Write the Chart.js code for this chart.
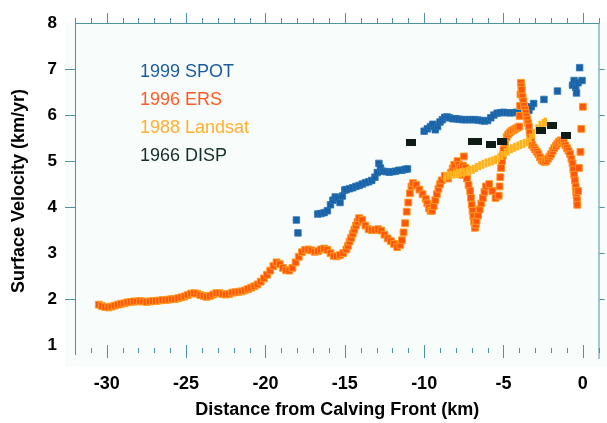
<!DOCTYPE html>
<html>
<head>
<meta charset="utf-8">
<script src="https://cdn.jsdelivr.net/npm/chart.js@4"></script>
<style>
html,body{margin:0;padding:0;background:#ffffff;}
#wrap{width:607px;height:423px;}
</style>
</head>
<body>
<div id="wrap"><canvas id="c" width="607" height="423"></canvas></div>
<script>
// ---------------- DATA ----------------
const xTickValues = [-30, -25, -20, -15, -10, -5, 0];
const yTickValues = [1, 2, 3, 4, 5, 6, 7, 8];
const xAxisTitle = 'Distance from Calving Front (km)';
const yAxisTitle = 'Surface Velocity (km/yr)';

const seriesLabels = ['1999 SPOT', '1996 ERS', '1988 Landsat', '1966 DISP'];

// 1996 ERS
const ersX = [-30.5,-30.3,-30.1,-29.9,-29.7,-29.5,-29.3,-29.1,-28.9,-28.7,-28.5,-28.3,-28.1,-27.9,-27.7,-27.5,-27.3,-27.1,-26.9,-26.7,-26.5,-26.3,-26.1,-25.9,-25.7,-25.5,-25.3,-25.1,-24.9,-24.7,-24.5,-24.3,-24.1,-23.9,-23.7,-23.5,-23.3,-23.1,-22.9,-22.7,-22.5,-22.3,-22.1,-21.9,-21.7,-21.5,-21.3,-21.1,-20.9,-20.7,-20.5,-20.3,-20.1,-19.9,-19.7,-19.5,-19.3,-19.1,-18.9,-18.7,-18.5,-18.3,-18.1,-17.9,-17.7,-17.5,-17.3,-17.1,-16.9,-16.7,-16.5,-16.3,-16.1,-15.9,-15.7,-15.5,-15.3,-15.1,-14.9,-14.8,-14.7,-14.6,-14.5,-14.4,-14.3,-14.2,-14.1,-13.9,-13.7,-13.5,-13.3,-13.1,-12.9,-12.7,-12.5,-12.3,-12.1,-11.9,-11.7,-11.5,-11.4,-11.3,-11.2,-11.1,-11.0,-10.9,-10.8,-10.7,-10.5,-10.3,-10.1,-9.9,-9.8,-9.7,-9.6,-9.5,-9.4,-9.3,-9.2,-9.1,-9.0,-8.9,-8.7,-8.5,-8.3,-8.2,-8.1,-7.9,-7.8,-7.7,-7.6,-7.55,-7.5,-7.4,-7.3,-7.2,-7.1,-7.05,-7.0,-6.95,-6.9,-6.85,-6.8,-6.75,-6.7,-6.6,-6.5,-6.4,-6.3,-6.2,-6.1,-5.9,-5.7,-5.5,-5.3,-5.25,-5.2,-5.15,-5.1,-5.05,-5.0,-4.9,-4.8,-4.7,-4.6,-4.5,-4.4,-4.3,-4.2,-4.1,-4.0,-3.98,-3.95,-3.93,-3.9,-3.87,-3.85,-3.8,-3.75,-3.7,-3.65,-3.6,-3.55,-3.5,-3.45,-3.4,-3.35,-3.3,-3.25,-3.2,-3.1,-3.0,-2.9,-2.8,-2.7,-2.6,-2.5,-2.4,-2.3,-2.2,-2.1,-2.0,-1.9,-1.8,-1.7,-1.6,-1.5,-1.4,-1.3,-1.2,-1.1,-1.0,-0.9,-0.8,-0.72,-0.65,-0.6,-0.55,-0.5,-0.45,-0.42,-0.4,-0.37,-0.35,-0.3,-0.25,-0.15,-0.1,0.0];
const ersY = [1.88,1.85,1.83,1.82,1.84,1.86,1.88,1.90,1.91,1.93,1.94,1.95,1.95,1.96,1.95,1.94,1.95,1.96,1.96,1.97,1.98,1.98,1.99,2.00,2.00,2.02,2.04,2.06,2.09,2.12,2.13,2.12,2.09,2.07,2.05,2.07,2.10,2.13,2.13,2.11,2.10,2.11,2.14,2.15,2.16,2.17,2.19,2.22,2.25,2.28,2.32,2.38,2.45,2.53,2.62,2.72,2.80,2.76,2.68,2.63,2.62,2.68,2.80,2.92,3.02,3.07,3.08,3.06,3.03,3.04,3.08,3.10,3.07,3.00,2.94,2.93,2.96,3.00,3.08,3.16,3.25,3.33,3.42,3.51,3.60,3.68,3.76,3.72,3.60,3.52,3.50,3.50,3.52,3.49,3.40,3.32,3.26,3.20,3.13,3.18,3.28,3.45,3.65,3.90,4.10,4.30,4.45,4.52,4.48,4.38,4.28,4.18,4.08,3.98,3.92,3.92,4.02,4.15,4.28,4.40,4.50,4.58,4.68,4.62,4.75,4.84,4.92,5.00,4.92,4.85,4.70,4.90,5.10,4.85,4.62,4.48,4.35,4.20,4.05,3.92,3.80,3.68,3.55,3.62,3.70,3.82,3.95,4.08,4.20,4.33,4.45,4.50,4.35,4.20,4.25,4.45,4.65,4.85,5.00,5.12,5.25,5.40,5.52,5.58,5.62,5.65,5.67,5.69,5.71,5.73,5.75,5.98,6.20,6.45,6.70,6.62,6.55,6.40,6.30,6.20,6.12,6.05,5.97,5.90,5.82,5.75,5.62,5.50,5.42,5.35,5.30,5.25,5.20,5.15,5.08,5.02,5.00,4.98,5.00,5.05,5.10,5.15,5.22,5.28,5.33,5.38,5.42,5.45,5.43,5.40,5.34,5.28,5.22,5.15,5.05,4.95,4.82,4.70,4.58,4.45,4.35,4.25,4.15,4.05,4.35,4.85,5.20,5.70,6.18];

// 1999 SPOT
const spotX = [-18.05,-17.95,-16.7,-16.5,-16.3,-16.1,-15.9,-15.75,-15.6,-15.45,-15.3,-15.15,-15.0,-14.9,-14.7,-14.5,-14.3,-14.1,-13.9,-13.7,-13.5,-13.3,-13.1,-12.95,-12.85,-12.75,-12.6,-12.4,-12.2,-12.0,-11.8,-11.6,-11.4,-11.2,-11.05,-10.0,-9.8,-9.6,-9.45,-9.3,-9.15,-9.0,-8.85,-8.7,-8.55,-8.4,-8.2,-8.0,-7.8,-7.6,-7.4,-7.2,-7.0,-6.8,-6.6,-6.4,-6.2,-6.0,-5.8,-5.6,-5.4,-5.2,-5.0,-4.8,-4.6,-4.4,-4.2,-4.0,-3.8,-3.6,-3.4,-3.25,-3.1,-2.45,-1.6,-0.65,-0.55,-0.45,-0.4,-0.3,-0.2,-0.05];
const spotY = [3.72,3.44,3.85,3.86,3.88,3.92,4.05,4.15,4.22,4.18,4.10,4.24,4.37,4.38,4.40,4.42,4.45,4.47,4.50,4.53,4.55,4.58,4.65,4.75,4.95,4.85,4.78,4.77,4.76,4.77,4.78,4.80,4.80,4.82,4.83,5.65,5.70,5.75,5.80,5.68,5.75,5.85,5.90,5.95,5.96,5.94,5.92,5.92,5.91,5.90,5.90,5.90,5.90,5.90,5.89,5.88,5.87,5.88,5.94,6.00,6.04,6.05,6.06,6.05,6.05,6.05,6.06,6.06,6.06,6.07,6.10,6.18,6.25,6.34,6.52,6.65,6.75,6.60,6.48,6.70,7.03,6.75];

// 1988 Landsat
const landsatX = [-8.7,-8.5,-8.3,-8.1,-7.9,-7.7,-7.5,-7.3,-7.1,-6.9,-6.7,-6.5,-6.3,-6.1,-5.9,-5.7,-5.5,-5.3,-5.1,-4.9,-4.7,-4.5,-4.3,-4.1,-3.9,-3.7,-3.5,-3.3,-3.1,-2.9,-2.7,-2.5,-2.35];
const landsatY = [4.65,4.68,4.70,4.72,4.73,4.74,4.76,4.78,4.80,4.82,4.86,4.90,4.93,4.96,4.98,5.00,5.03,5.07,5.12,5.18,5.22,5.27,5.30,5.33,5.36,5.38,5.42,5.50,5.60,5.70,5.78,5.82,5.85];

// 1966 DISP
const dispX = [-10.85,-6.95,-6.7,-5.8,-5.1,-2.65,-1.95,-1.05];
const dispY = [5.41,5.42,5.42,5.36,5.43,5.67,5.78,5.55];

// ---------------- STYLE ----------------
const FONT = "'Liberation Sans', Arial, Helvetica, sans-serif";
const AXIS_COLOR = '#4f93a3';
const textColors = ['#1b5c9c', '#ff5a24', '#ffb02c', '#14302a'];

function pts(xs, ys){ return xs.map((x,i)=>({x:x, y:ys[i]})); }

const dispMark = document.createElement('canvas');
dispMark.width = 10; dispMark.height = 7;
(function(){ const g = dispMark.getContext('2d'); g.fillStyle = '#0f1c15'; g.fillRect(0,0,10,7); })();

const bgPlugin = {
  id: 'bg',
  beforeDraw(chart){
    const ctx = chart.ctx, a = chart.chartArea;
    ctx.save();
    ctx.fillStyle = '#ffffff';
    ctx.fillRect(0,0,chart.width,chart.height);
    ctx.fillStyle = '#f8fcfb';
    ctx.fillRect(a.left-10, a.top, chart.width-(a.left-10), a.bottom + 8 - a.top);
    ctx.restore();
  }
};

const framePlugin = {
  id: 'frame',
  beforeDatasetsDraw(chart){
    const ctx = chart.ctx, a = chart.chartArea;
    const xs = chart.scales.x, ys = chart.scales.y;
    ctx.save();
    ctx.strokeStyle = AXIS_COLOR;
    ctx.lineWidth = 1;
    ctx.beginPath();
    ctx.moveTo(a.left+0.5, a.top); ctx.lineTo(a.left+0.5, a.bottom-4);
    ctx.moveTo(a.right-0.5, a.top); ctx.lineTo(a.right-0.5, a.bottom);
    ctx.moveTo(a.left, a.top+0.5); ctx.lineTo(a.right, a.top+0.5);
    for (let v = Math.ceil(xs.min); v <= Math.floor(xs.max); v++){
      const px = Math.round(xs.getPixelForValue(v)) + 0.5;
      const major = (v % 5 === 0);
      ctx.moveTo(px, a.top); ctx.lineTo(px, a.top - (major ? 10 : 5));
      if (major){ ctx.moveTo(px, a.bottom-1); ctx.lineTo(px, a.bottom-14); }
      else { ctx.moveTo(px, a.bottom-6); ctx.lineTo(px, a.bottom-11); }
    }
    for (const v of [2,3,4,5,6,7]){
      const py = Math.round(ys.getPixelForValue(v)) + 0.5;
      ctx.moveTo(a.right, py); ctx.lineTo(a.right+5, py);
    }
    ctx.stroke();
    ctx.restore();
  }
};

const legendPlugin = {
  id: 'textLegend',
  afterDatasetsDraw(chart){
    const ctx = chart.ctx;
    ctx.save();
    ctx.font = "18px " + FONT;
    ctx.textAlign = 'left';
    ctx.textBaseline = 'middle';
    seriesLabels.forEach((lab, i) => {
      ctx.fillStyle = textColors[i];
      ctx.fillText(lab, 140, 72 + i*28);
    });
    ctx.restore();
  }
};

new Chart(document.getElementById('c'), {
  type: 'scatter',
  data: {
    datasets: [
      { label: seriesLabels[3], data: pts(dispX, dispY), pointStyle: dispMark, pointRadius: 5, order: 0 },
      { label: seriesLabels[2], data: pts(landsatX, landsatY), pointStyle: 'line', rotation: 90, pointRadius: 4.5,
        borderColor: '#ffb41e', backgroundColor: '#ffb41e', borderWidth: 3, order: 1 },
      { label: seriesLabels[1], data: pts(ersX, ersY), pointStyle: 'rect', pointRadius: 4.8,
        backgroundColor: '#ff560c', borderColor: '#ff9a22', borderWidth: 1, order: 2 },
      { label: seriesLabels[0], data: pts(spotX, spotY), pointStyle: 'rect', pointRadius: 4.6,
        backgroundColor: '#1862a8', borderColor: '#2c74b4', borderWidth: 0.8, order: 3 }
    ]
  },
  options: {
    responsive: false,
    animation: false,
    devicePixelRatio: 1,
    layout: { padding: { top: 23, right: 4, left: 0, bottom: 0 } },
    plugins: { legend: { display: false }, tooltip: { enabled: false } },
    scales: {
      x: {
        type: 'linear', min: -32, max: 1.05,
        afterBuildTicks: s => { s.ticks = xTickValues.map(v => ({ value: v })); },
        afterFit: s => { s.height = 64; },
        grid: { display: false, drawTicks: false },
        border: { display: false },
        ticks: { padding: 14, color: '#000', font: { family: FONT, size: 18, weight: 'bold' },
                 callback: v => String(v) },
        title: { display: true, text: xAxisTitle, color: '#000',
                 font: { family: FONT, size: 18, weight: 'bold' }, padding: { top: 0, bottom: 2 } }
      },
      y: {
        type: 'linear', min: 0.7, max: 8,
        afterBuildTicks: s => { s.ticks = yTickValues.map(v => ({ value: v })); },
        afterFit: s => { s.width = 75; },
        grid: { drawOnChartArea: false, drawTicks: true, tickLength: 10,
                tickColor: c => ([1,3,8].includes(c.tick && c.tick.value) ? 'rgba(0,0,0,0)' : AXIS_COLOR) },
        border: { display: false },
        ticks: { padding: 8, color: '#000', font: { family: FONT, size: 17, weight: 'bold' },
                 callback: v => String(v) },
        title: { display: true, text: yAxisTitle, color: '#000',
                 font: { family: FONT, size: 18, weight: 'bold' }, padding: { top: 8, bottom: 0 } }
      }
    }
  },
  plugins: [bgPlugin, framePlugin, legendPlugin]
});
</script>
</body>
</html>
